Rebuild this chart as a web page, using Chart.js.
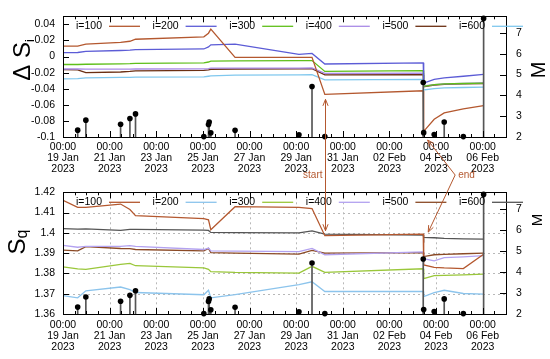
<!DOCTYPE html>
<html>
<head>
<meta charset="utf-8">
<script src="https://cdn.jsdelivr.net/npm/chart.js@4.4.1/dist/chart.umd.min.js"></script>
<style>
  html, body { margin: 0; padding: 0; background: #fff; }
  #wrap { position: relative; width: 550px; height: 359px; }
  #wrap canvas { position: absolute; left: 0; }
</style>
</head>
<body>
<div id="wrap">
  <canvas id="chartDelta" width="550" height="176" style="top:0"></canvas>
  <canvas id="chartSq" width="550" height="183" style="top:176px"></canvas>
  <canvas id="notes" width="550" height="359" style="top:0;pointer-events:none"></canvas>
</div>
<script>
// days after 00:00 19 Jan 2023 where the curves have a vertex
const lineDays = [0, 0.63, 0.98, 2.47, 2.87, 3.11, 6.04, 6.24, 6.34, 7.38, 10.12, 10.68, 11.23, 15.45, 15.47, 15.92, 16.35, 17.17, 18.04];
const seriesNames = ["i=100", "i=200", "i=300", "i=400", "i=500", "i=600"];

// upper panel, ΔS_i
const dS100 = [0.013, 0.013, 0.0155, 0.0175, 0.019, 0.0215, 0.0245, 0.029, 0.034, -0.001, -0.001, -0.001, -0.047, -0.0425, -0.093, -0.078, -0.070, -0.065, -0.061];
const dS200 = [0.0049, 0.005, 0.0065, 0.0075, 0.008, 0.0087, 0.0094, 0.012, 0.0145, 0.0153, 0.0028, 0.0038, -0.0093, -0.0078, -0.033, -0.0285, -0.0265, -0.0245, -0.0222];
const dS300 = [-0.0099, -0.0099, -0.0096, -0.009, -0.0088, -0.0085, -0.0078, -0.0068, -0.0058, -0.0055, -0.0052, -0.005, -0.0185, -0.0175, -0.037, -0.035, -0.034, -0.0335, -0.033];
const dS400 = [-0.0155, -0.0155, -0.0157, -0.0157, -0.0156, -0.0155, -0.0153, -0.015, -0.0145, -0.0145, -0.0143, -0.0142, -0.021, -0.0205, -0.0365, -0.035, -0.034, -0.0335, -0.0328];
const dS500 = [-0.0163, -0.0165, -0.02, -0.0192, -0.0185, -0.0178, -0.0172, -0.0165, -0.0158, -0.0155, -0.0153, -0.0152, -0.0228, -0.0225, -0.0375, -0.0355, -0.0345, -0.034, -0.0335];
const dS600 = [-0.0277, -0.0275, -0.0265, -0.026, -0.0258, -0.0257, -0.0254, -0.0245, -0.024, -0.0232, -0.0228, -0.0225, -0.029, -0.0285, -0.0415, -0.04, -0.039, -0.0385, -0.038];

// lower panel, S_q
const sq100 = [1.4161, 1.4126, 1.4126, 1.4142, 1.4115, 1.4085, 1.407, 1.4064, 1.4015, 1.4129, 1.4126, 1.412, 1.3986, 1.3994, 1.3842, 1.383, 1.3827, 1.3824, 1.3895];
const sq200 = [1.3691, 1.368, 1.3714, 1.3733, 1.372, 1.3706, 1.3695, 1.3717, 1.368, 1.3695, 1.3745, 1.3759, 1.3711, 1.3711, 1.3686, 1.3705, 1.3717, 1.3701, 1.3698];
const sq300 = [1.3832, 1.3822, 1.382, 1.3845, 1.385, 1.3838, 1.3827, 1.382, 1.3809, 1.3805, 1.3802, 1.3835, 1.3805, 1.3823, 1.3774, 1.3789, 1.379, 1.3793, 1.3797];
const sq400 = [1.3938, 1.3929, 1.3933, 1.3933, 1.3937, 1.3933, 1.3918, 1.3925, 1.3911, 1.391, 1.3908, 1.3923, 1.3892, 1.3906, 1.3873, 1.3862, 1.3878, 1.3882, 1.3888];
const sq500 = [1.3915, 1.3911, 1.3932, 1.3923, 1.3922, 1.3918, 1.3911, 1.3923, 1.3903, 1.39, 1.3895, 1.3914, 1.39, 1.3903, 1.3883, 1.3892, 1.3894, 1.3897, 1.39];
const sq600 = [1.4021, 1.4018, 1.402, 1.4012, 1.4017, 1.4017, 1.4014, 1.4012, 1.4002, 1.4001, 1.4, 1.401, 1.3994, 1.3989, 1.3978, 1.3976, 1.3973, 1.397, 1.3969];

// earthquakes (days, magnitude M)
const quakeDays = [0.63, 0.98, 2.47, 2.87, 3.11, 6.04, 6.24, 6.27, 6.34, 7.38, 10.12, 10.68, 11.23, 15.45, 15.47, 15.92, 16.35, 17.17, 18.04];
const quakeMag = [2.33, 2.81, 2.61, 2.89, 3.11, 2.02, 2.6, 2.72, 2.2, 2.32, 2.11, 4.43, 2.02, 4.62, 2.21, 2.12, 2.72, 2.02, 7.7];

const topColors = ["#b4582f", "#5c5cd6", "#5fbf1a", "#a98be6", "#6b2f12", "#80c8ee"];
const botColors = ["#b4582f", "#8cc4ec", "#9ac73a", "#b3a2f0", "#8b4a26", "#555555"];
const annColor = "#b4582f";

const fontFamily = "'Liberation Sans', Arial, sans-serif";
const tickFont = { family: fontFamily, size: 10.5, lineHeight: 1.05 };
const MONTHS = ["Jan", "Feb", "Mar"];

function dayLabel(v) {
  const d = new Date(Date.UTC(2023, 0, 19) + v * 864e5);
  const dd = String(d.getUTCDate()).padStart(2, "0");
  return ["00:00", dd + " " + MONTHS[d.getUTCMonth()], String(d.getUTCFullYear())];
}

function seg(ctx, x1, y1, x2, y2) {
  ctx.beginPath();
  ctx.moveTo(x1, y1);
  ctx.lineTo(x2, y2);
  ctx.stroke();
}

function decor(opt) {
  return {
    id: "decor",
    beforeDatasetsDraw(chart) {
      if (!opt.grid) return;
      const { ctx, chartArea: a, scales } = chart;
      ctx.save();
      ctx.strokeStyle = "#b8b8b8";
      ctx.lineWidth = 1;
      ctx.setLineDash([2, 3]);
      scales.x.ticks.forEach((t) => {
        const px = Math.round(scales.x.getPixelForValue(t.value)) + 0.5;
        seg(ctx, px, a.top, px, a.bottom);
      });
      scales.y.ticks.forEach((t) => {
        const py = Math.round(scales.y.getPixelForValue(t.value)) + 0.5;
        seg(ctx, a.left, py, a.right, py);
      });
      ctx.restore();
    },
    afterDraw(chart) {
      const { ctx, chartArea: a, scales } = chart;
      ctx.save();
      ctx.strokeStyle = "#000";
      ctx.lineWidth = 1;
      ctx.strokeRect(Math.round(a.left) + 0.5, Math.round(a.top) + 0.5,
        Math.round(a.right - a.left), Math.round(a.bottom - a.top));

      // x tics, inward, mirrored on top
      for (let v = scales.x.min; v <= scales.x.max + 1e-9; v += 0.5) {
        const px = Math.round(scales.x.getPixelForValue(v)) + 0.5;
        const len = v % 2 === 0 ? 6 : 3;
        seg(ctx, px, a.bottom, px, a.bottom - len);
        seg(ctx, px, a.top, px, a.top + len);
      }
      scales.y.ticks.forEach((t) => {
        const py = Math.round(scales.y.getPixelForValue(t.value)) + 0.5;
        seg(ctx, a.left, py, a.left + 6, py);
      });
      scales.yM.ticks.forEach((t) => {
        const py = Math.round(scales.yM.getPixelForValue(t.value)) + 0.5;
        seg(ctx, a.right, py, a.right - 6, py);
      });

      // key inside the top of the plot
      ctx.font = "10.5px " + fontFamily;
      ctx.textBaseline = "middle";
      ctx.textAlign = "left";
      seriesNames.forEach((name, k) => {
        const tx = a.left + 13 + k * 76.6;
        const ty = a.top + 10;
        ctx.fillStyle = "#000";
        ctx.fillText(name, tx, ty);
        ctx.strokeStyle = opt.colors[k];
        ctx.lineWidth = 1.3;
        seg(ctx, tx + 33, ty, tx + 64, ty);
      });

      // axis titles
      ctx.fillStyle = "#000";
      ctx.textBaseline = "alphabetic";
      opt.titles.forEach((tt) => {
        ctx.save();
        ctx.translate(tt.cx, tt.cy);
        ctx.rotate(-Math.PI / 2);
        let w = 0;
        tt.parts.forEach((p) => { ctx.font = p.size + "px " + fontFamily; w += ctx.measureText(p.text).width; });
        let x = -w / 2;
        tt.parts.forEach((p) => {
          ctx.font = p.size + "px " + fontFamily;
          ctx.fillText(p.text, x, tt.base + (p.dy || 0));
          x += ctx.measureText(p.text).width;
        });
        ctx.restore();
      });
      ctx.restore();
    },
  };
}

function buildPanel(canvas, opt) {
  const datasets = opt.series.map((vals, k) => ({
    type: "line",
    label: seriesNames[k],
    data: lineDays.map((d, j) => ({ x: d, y: vals[j] })),
    borderColor: opt.colors[k],
    borderWidth: 1.3,
    pointRadius: 0,
    tension: 0,
    yAxisID: "y",
    order: 2,
  }));
  datasets.push({
    type: "bar",
    label: "stems",
    data: quakeDays.map((d, j) => ({ x: d, y: quakeMag[j] })),
    backgroundColor: "#555",
    barThickness: 1,
    yAxisID: "yM",
    order: 1,
  });
  datasets.push({
    type: "scatter",
    label: "M",
    data: quakeDays.map((d, j) => ({ x: d, y: quakeMag[j] })),
    backgroundColor: "#000",
    borderWidth: 0,
    pointRadius: 2.8,
    yAxisID: "yM",
    clip: false,
    order: 0,
  });

  return new Chart(canvas, {
    type: "line",
    data: { datasets },
    options: {
      responsive: false,
      animation: false,
      devicePixelRatio: 1,
      layout: { padding: { top: opt.padTop, left: 0, right: 0, bottom: 0 } },
      plugins: { legend: { display: false }, tooltip: { enabled: false } },
      scales: {
        x: {
          type: "linear",
          min: 0,
          max: 19,
          offset: false,
          grid: { display: false, drawTicks: false },
          border: { display: false },
          ticks: {
            stepSize: 2,
            includeBounds: false,
            autoSkip: false,
            maxRotation: 0,
            color: "#000",
            font: tickFont,
            padding: opt.xPad,
            callback: (v) => dayLabel(v),
          },
          afterFit: (s) => { s.height = opt.xHeight; },
        },
        y: {
          type: "linear",
          position: "left",
          min: opt.yMin,
          max: opt.yMax,
          grid: { display: false, drawTicks: false },
          border: { display: false },
          ticks: {
            stepSize: opt.yStep,
            includeBounds: false,
            color: "#000",
            font: { family: fontFamily, size: 10.5 },
            padding: 8,
            callback: (v) => String(+v.toFixed(3)),
          },
          afterFit: (s) => { s.width = 63; },
        },
        yM: {
          type: "linear",
          position: "right",
          min: 2,
          max: 7.8,
          grid: { display: false, drawTicks: false },
          border: { display: false },
          ticks: {
            stepSize: 1,
            includeBounds: false,
            color: "#000",
            font: { family: fontFamily, size: 10.5 },
            padding: 10,
          },
          afterFit: (s) => { s.width = 44; },
        },
      },
    },
    plugins: [decor(opt)],
  });
}

const topChart = buildPanel(document.getElementById("chartDelta"), {
  series: [dS100, dS200, dS300, dS400, dS500, dS600],
  colors: topColors,
  yMin: -0.1, yMax: 0.05, yStep: 0.02,
  padTop: 5, xHeight: 39, xPad: 5, grid: false,
  titles: [
    { cx: 21, cy: 60, base: 9, parts: [{ text: "Δ S", size: 24 }, { text: "i", size: 13, dy: 4 }] },
    { cx: 538, cy: 70, base: 7, parts: [{ text: "M", size: 20 }] },
  ],
});

const botChart = buildPanel(document.getElementById("chartSq"), {
  series: [sq100, sq200, sq300, sq400, sq500, sq600],
  colors: botColors,
  yMin: 1.36, yMax: 1.42, yStep: 0.01,
  padTop: 7, xHeight: 45, xPad: 6, grid: true,
  titles: [
    { cx: 16, cy: 66, base: 9, parts: [{ text: "S", size: 24 }, { text: "q", size: 16, dy: 2 }] },
    { cx: 537, cy: 44, base: 5, parts: [{ text: "M", size: 15 }] },
  ],
});

// "start" / "end" arrows across both panels
function arrowHead(ctx, fx, fy, tx, ty) {
  const ang = Math.atan2(ty - fy, tx - fx);
  const L = 7, w = 0.38;
  ctx.beginPath();
  ctx.moveTo(tx - L * Math.cos(ang - w), ty - L * Math.sin(ang - w));
  ctx.lineTo(tx, ty);
  ctx.lineTo(tx - L * Math.cos(ang + w), ty - L * Math.sin(ang + w));
  ctx.stroke();
}

function drawNotes() {
  const ctx = document.getElementById("notes").getContext("2d");
  const offB = 176;
  const tx = topChart.scales.x, ty = topChart.scales.y;
  const bx = botChart.scales.x, by = botChart.scales.y;
  ctx.strokeStyle = annColor;
  ctx.fillStyle = annColor;
  ctx.lineWidth = 1;
  ctx.font = "10px " + fontFamily;
  ctx.textBaseline = "middle";

  // start: vertical double arrow at the first drop
  const js = 12;
  const sx = Math.round(tx.getPixelForValue(lineDays[js])) + 0.5;
  const sTop = ty.getPixelForValue(dS100[js]) + 5;
  const sBot = offB + by.getPixelForValue(sq100[js]) - 5;
  seg(ctx, sx, sTop, sx, sBot);
  arrowHead(ctx, sx, sBot, sx, sTop);
  arrowHead(ctx, sx, sTop, sx, sBot);
  ctx.textAlign = "right";
  ctx.fillText("start", sx - 3, 175);

  // end: two arrows from a common vertex between panels
  const je = 14;
  const vx = tx.getPixelForValue(lineDays[je] + 1.35);
  const vy = 175;
  const t1x = tx.getPixelForValue(lineDays[je]) + 4;
  const t1y = topChart.chartArea.bottom + 3;
  const t2x = bx.getPixelForValue(lineDays[je - 1]) + 5;
  const t2y = offB + by.getPixelForValue(sq100[je - 1]) - 2;
  seg(ctx, vx, vy, t1x, t1y);
  seg(ctx, vx, vy, t2x, t2y);
  arrowHead(ctx, vx, vy, t1x, t1y);
  arrowHead(ctx, vx, vy, t2x, t2y);
  ctx.textAlign = "left";
  ctx.fillText("end", vx + 3, vy);
}
drawNotes();
</script>
</body>
</html>
